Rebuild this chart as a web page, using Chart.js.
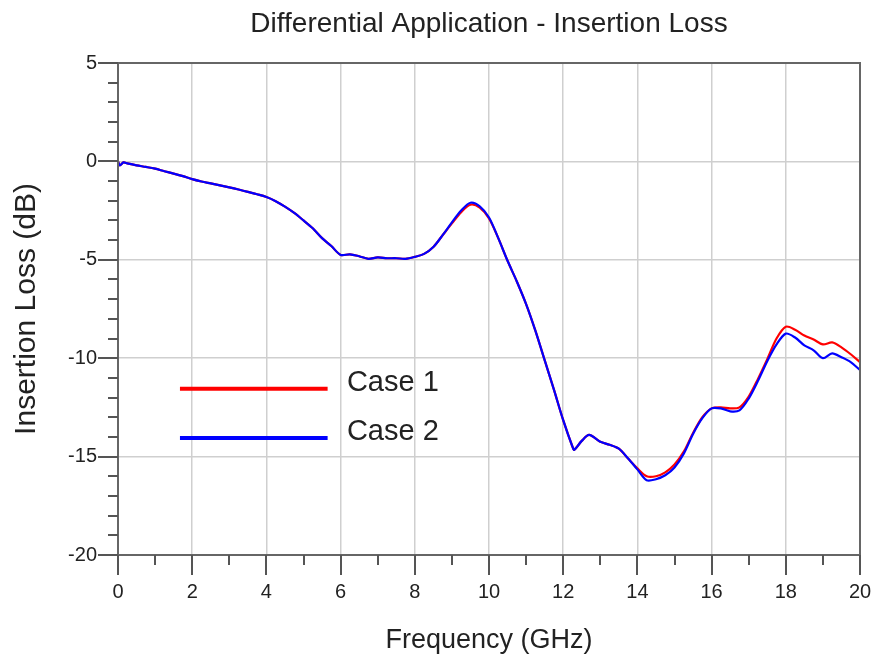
<!DOCTYPE html>
<html>
<head>
<meta charset="utf-8">
<script src="https://cdn.jsdelivr.net/npm/chart.js@4/dist/chart.umd.min.js"></script>
<style>
html,body{margin:0;padding:0;background:#fff;}
#wrap{width:876px;height:662px;}
</style>
</head>
<body>
<div id="wrap"><canvas id="c" width="876" height="662"></canvas></div>
<script>
const freq = [0,0.05,0.15,0.25,0.5,0.75,1,1.25,1.5,1.75,2,2.25,2.5,2.75,3,3.25,3.5,3.75,4,4.25,4.5,4.75,5,5.25,5.5,5.75,6,6.25,6.5,6.75,7,7.25,7.5,7.75,8,8.25,8.5,8.75,9,9.25,9.5,9.75,10,10.25,10.5,10.75,11,11.25,11.5,11.75,12,12.25,12.3,12.5,12.7,13,13.25,13.5,13.75,14,14.25,14.5,14.75,15,15.25,15.5,15.75,16,16.25,16.5,16.75,17,17.25,17.5,17.75,18,18.25,18.5,18.75,19,19.25,19.5,19.75,20];
const case1 = [0,-0.2,-0.05,-0.1,-0.2,-0.28,-0.37,-0.5,-0.62,-0.75,-0.9,-1.02,-1.12,-1.22,-1.32,-1.43,-1.55,-1.67,-1.81,-2.02,-2.3,-2.62,-3.0,-3.4,-3.9,-4.3,-4.75,-4.72,-4.82,-4.95,-4.88,-4.92,-4.92,-4.95,-4.85,-4.7,-4.35,-3.75,-3.15,-2.58,-2.2,-2.35,-2.9,-3.9,-5.05,-6.1,-7.25,-8.6,-10.1,-11.6,-13.15,-14.5,-14.65,-14.2,-13.9,-14.25,-14.4,-14.6,-15.1,-15.6,-16.0,-16.0,-15.8,-15.4,-14.75,-13.8,-13.0,-12.55,-12.5,-12.55,-12.5,-11.95,-11.05,-10.05,-9.0,-8.4,-8.55,-8.85,-9.05,-9.3,-9.2,-9.45,-9.8,-10.2];
const case2 = [0,-0.2,-0.05,-0.1,-0.2,-0.28,-0.37,-0.5,-0.62,-0.75,-0.9,-1.02,-1.12,-1.22,-1.32,-1.43,-1.55,-1.67,-1.81,-2.02,-2.3,-2.62,-3.0,-3.4,-3.9,-4.3,-4.75,-4.72,-4.82,-4.95,-4.88,-4.92,-4.92,-4.95,-4.85,-4.7,-4.35,-3.75,-3.1,-2.5,-2.1,-2.28,-2.85,-3.9,-5.05,-6.1,-7.25,-8.6,-10.1,-11.6,-13.15,-14.5,-14.65,-14.2,-13.9,-14.25,-14.4,-14.6,-15.1,-15.65,-16.2,-16.15,-15.95,-15.55,-14.85,-13.85,-13.05,-12.55,-12.55,-12.7,-12.65,-12.05,-11.15,-10.15,-9.3,-8.75,-8.95,-9.35,-9.6,-10.0,-9.75,-9.95,-10.2,-10.6];
const seriesLabels = ['Case 1','Case 2'];
const seriesColors = ['#ff0000','#0000ff'];
const xTicks = [0,2,4,6,8,10,12,14,16,18,20];
const yTicks = [5,0,-5,-10,-15,-20];

const FONT = '"Liberation Sans", Arial, sans-serif';
const toPts = (ys) => freq.map((f,i)=>({x:f,y:ys[i]}));

const framePlugin = {
  id:'frame',
  afterDraw(chart){
    const {ctx, chartArea:a, scales:{x,y}} = chart;
    ctx.save();
    ctx.strokeStyle = '#666'; ctx.lineWidth = 2;
    ctx.strokeRect(a.left, a.top, a.right-a.left, a.bottom-a.top);
    ctx.strokeStyle = '#555'; ctx.lineWidth = 2;
    for (let v=0; v<=20; v++){
      const px = Math.round(x.getPixelForValue(v));
      const len = (v%2===0)?20:10;
      ctx.beginPath(); ctx.moveTo(px, a.bottom); ctx.lineTo(px, a.bottom+len); ctx.stroke();
    }
    for (let v=-20; v<=5; v++){
      const py = Math.round(y.getPixelForValue(v));
      const len = (v%5===0)?20:10;
      ctx.beginPath(); ctx.moveTo(a.left, py); ctx.lineTo(a.left-len, py); ctx.stroke();
    }
    const ds = chart.data.datasets;
    const items = [{d:ds[0], y:y.getPixelForValue(-11.55)},{d:ds[1], y:y.getPixelForValue(-14.05)}];
    const x0 = x.getPixelForValue(1.67), x1 = x.getPixelForValue(5.65), tx = x.getPixelForValue(6.17);
    ctx.lineWidth = 4; ctx.lineCap = 'butt';
    ctx.font = '29px ' + FONT; ctx.fillStyle = '#222'; ctx.textBaseline = 'middle'; ctx.textAlign='left';
    items.forEach(it=>{
      ctx.strokeStyle = it.d.borderColor;
      ctx.beginPath(); ctx.moveTo(x0, it.y); ctx.lineTo(x1, it.y); ctx.stroke();
      ctx.fillText(it.d.label, tx, it.y - 6);
    });
    ctx.restore();
  }
};

new Chart(document.getElementById('c'), {
  type:'line',
  data:{
    datasets:[
      {label:seriesLabels[0], data:toPts(case1), borderColor:seriesColors[0], borderWidth:2.2, pointRadius:0, tension:0.3, order:1},
      {label:seriesLabels[1], data:toPts(case2), borderColor:seriesColors[1], borderWidth:2.2, pointRadius:0, tension:0.3, order:0}
    ]
  },
  options:{
    responsive:false, animation:false,
    layout:{padding:{left:5, right:16, top:0, bottom:1}},
    plugins:{
      legend:{display:false}, tooltip:{enabled:false},
      title:{display:true, fullSize:false, text:'Differential Application - Insertion Loss', color:'#222',
        font:{family:FONT, size:28, weight:'normal'}, padding:{top:7, bottom:22.4}}
    },
    scales:{
      x:{type:'linear', min:0, max:20,
        afterBuildTicks(s){ s.ticks = []; for(let v=0; v<=20; v++) s.ticks.push({value:v}); },
        afterFit(s){ s.height = 106; s.paddingLeft = 0; s.paddingRight = 0; },
        ticks:{autoSkip:false, maxRotation:0, padding:25, color:'#222', font:{family:FONT,size:20},
          callback:(v)=> xTicks.includes(v) ? String(v) : ''},
        grid:{drawTicks:false, lineWidth:1.5,
          color:(c)=> (c.tick && c.tick.value%2===0 && c.tick.value>0 && c.tick.value<20) ? '#cfcfcf' : 'rgba(0,0,0,0)'},
        border:{display:false},
        title:{display:true, text:'Frequency (GHz)', color:'#222', font:{family:FONT,size:27}, padding:{top:4,bottom:4}}
      },
      y:{type:'linear', min:-20, max:5,
        afterBuildTicks(s){ s.ticks = []; for(let v=-20; v<=5; v++) s.ticks.push({value:v}); },
        afterFit(s){ s.width = 113; s.paddingTop = 0; s.paddingBottom = 0; },
        ticks:{autoSkip:false, padding:21, color:'#222', font:{family:FONT,size:20},
          callback:(v)=> yTicks.includes(v) ? String(v) : ''},
        grid:{drawTicks:false, lineWidth:1.5,
          color:(c)=> (c.tick && c.tick.value%5===0 && c.tick.value>-20 && c.tick.value<5) ? '#cfcfcf' : 'rgba(0,0,0,0)'},
        border:{display:false},
        title:{display:true, text:'Insertion Loss (dB)', color:'#222', font:{family:FONT,size:30}, padding:{top:4,bottom:4}}
      }
    }
  },
  plugins:[framePlugin]
});
</script>
</body>
</html>
